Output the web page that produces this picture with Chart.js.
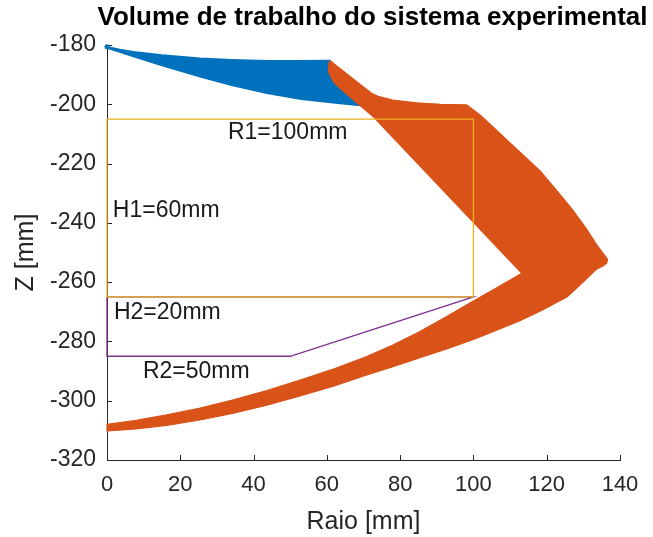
<!DOCTYPE html>
<html>
<head>
<meta charset="utf-8">
<script src="https://cdn.jsdelivr.net/npm/chart.js@4/dist/chart.umd.min.js"></script>
<style>
  html, body { margin: 0; padding: 0; background: #ffffff; }
  canvas { display: block; }
</style>
</head>
<body>
<canvas id="chart" width="653" height="537" style="width:653px;height:537px"></canvas>
<script>
// Axis ticks
const raioTicks = [0, 20, 40, 60, 80, 100, 120, 140];
const zTicks = [-320, -300, -280, -260, -240, -220, -200, -180];

// Reach of the first link (blue) — outline in Raio / Z (mm)
const blueRaio = [0, 3.5, 7.2, 15, 25.4, 34, 43.6, 52, 60.9, 61.5, 66.0, 70.5,
                  63.6, 58, 53, 43.6, 34, 25.4, 15, 7.2, 3.5, 0];
const blueZ    = [-180.6, -181.5, -182.3, -183.4, -184.5, -185.0, -185.3, -185.35, -185.2, -190.0, -197.0, -200.6,
                  -199.7, -199.0, -198.3, -196.3, -193.6, -190.7, -186.9, -183.9, -182.4, -181.0];

// Reach of the full arm (orange) — outline in Raio / Z (mm)
const orangeRaio = [60.9, 66.5, 72.2, 74.0, 78.0, 84.5, 91.0, 98.2,
                    101.8, 105.5, 109.1, 113.6, 118.2, 122.8, 127.3, 130.7, 133.7, 135.5, 136.6, 136.4, 135.6,
                    133.6, 129.5, 125.5, 119.0, 112.7, 106.0, 100.0, 92.7, 85.4, 78.0, 70.9, 62.0, 52.7, 43.6, 34.5, 25.4, 16.3, 8.0, 0.0,
                    0.0, 8.0, 16.3, 25.4, 34.5, 43.6, 52.7, 62.0, 70.9, 78.0, 85.4, 92.7, 100.0, 106.6, 113.2,
                    72.7, 67.2, 63.5, 61.8, 60.6, 60.4, 60.5, 60.9];
const orangeZ    = [-185.3, -190.8, -196.3, -197.3, -198.6, -199.5, -200.0, -200.2,
                    -203.6, -207.8, -212.0, -217.2, -222.5, -229.2, -236.0, -241.8, -247.5, -250.5, -252.3, -253.5, -254.4,
                    -255.6, -260.5, -265.0, -269.3, -273.0, -276.4, -279.3, -282.5, -285.5, -288.5, -291.3, -295.0, -298.4, -301.5, -304.2, -306.5, -308.3, -309.5, -310.2,
                    -308.0, -306.6, -304.8, -302.5, -299.7, -296.6, -293.0, -289.2, -285.1, -281.2, -276.7, -271.6, -266.4, -261.7, -257.0,
                    -204.2, -198.5, -194.5, -192.4, -189.5, -188.4, -186.5, -185.3];

// Cylindrical work volume (R1 x H1)
const box1Raio = [0, 100, 100, 0, 0];
const box1Z    = [-205, -205, -265, -265, -205];

// Lower conical volume (R1 -> R2, H2)
const box2Raio = [0, 100, 50, 0, 0];
const box2Z    = [-265, -265, -285, -285, -265];

// Dimension notes
const noteText = ['R1=100mm', 'H1=60mm', 'H2=20mm', 'R2=50mm'];
const noteRaio = [33, 1.6, 1.9, 9.8];
const noteZ    = [-209.7, -235.9, -270.3, -290.2];

const chartTitle = 'Volume de trabalho do sistema experimental';

const toPoints = (xs, ys) => xs.map((v, i) => ({ x: v, y: ys[i] }));

const FONT = '"Liberation Sans", Arial, Helvetica, sans-serif';
const AXIS_COLOR = '#262626';

const inwardTicks = {
  id: 'inwardTicks',
  beforeDatasetsDraw(chart) {
    const { ctx, chartArea, scales } = chart;
    const len = 5;
    ctx.save();
    ctx.strokeStyle = AXIS_COLOR;
    ctx.lineWidth = 1;
    ctx.beginPath();
    scales.x.ticks.forEach(t => {
      const px = Math.round(scales.x.getPixelForValue(t.value)) + 0.5;
      ctx.moveTo(px, chartArea.bottom);
      ctx.lineTo(px, chartArea.bottom - len);
    });
    scales.y.ticks.forEach(t => {
      const py = Math.round(scales.y.getPixelForValue(t.value)) + 0.5;
      ctx.moveTo(chartArea.left, py);
      ctx.lineTo(chartArea.left + len, py);
    });
    ctx.stroke();
    ctx.restore();
  }
};

const notes = {
  id: 'notes',
  afterDatasetsDraw(chart) {
    const { ctx, scales } = chart;
    ctx.save();
    ctx.font = '23px ' + FONT;
    ctx.fillStyle = '#1a1a1a';
    ctx.textAlign = 'left';
    ctx.textBaseline = 'middle';
    noteText.forEach((t, i) => {
      ctx.fillText(t, scales.x.getPixelForValue(noteRaio[i]), scales.y.getPixelForValue(noteZ[i]));
    });
    ctx.restore();
  }
};

// heading over the axes, at its natural width
const heading = {
  id: 'heading',
  afterDraw(chart) {
    const { ctx, chartArea } = chart;
    ctx.save();
    ctx.font = 'bold 26px ' + FONT;
    ctx.fillStyle = '#000000';
    ctx.textAlign = 'center';
    ctx.textBaseline = 'middle';
    ctx.fillText(chartTitle, (chartArea.left + chartArea.right) / 2 + 9, 18);
    ctx.restore();
  }
};

// round cap on the first vertex of a filled outline
const endDot = r => c => (c.dataIndex === 0 ? r : 0);

new Chart(document.getElementById('chart'), {
  type: 'scatter',
  data: {
    datasets: [
      {
        label: 'H1 / R1',
        data: toPoints(box1Raio, box1Z),
        showLine: true, fill: false, tension: 0,
        borderColor: '#EDB120', borderWidth: 1.3,
        pointRadius: 0, clip: 4
      },
      {
        label: 'H2 / R2',
        data: toPoints(box2Raio, box2Z),
        showLine: true, fill: false, tension: 0,
        borderColor: '#7E2F8E', borderWidth: 1.3,
        pointRadius: 0, clip: 4
      },
      {
        label: 'Braço completo',
        data: toPoints(orangeRaio, orangeZ),
        showLine: true, fill: 'shape', tension: 0,
        borderColor: '#D95319', backgroundColor: '#D95319',
        borderWidth: 1.2, borderJoinStyle: 'round',
        pointRadius: 0, clip: 6
      },
      {
        label: 'Primeiro elo',
        data: toPoints(blueRaio, blueZ),
        showLine: true, fill: 'shape', tension: 0,
        borderColor: '#0072BD', backgroundColor: '#0072BD',
        borderWidth: 1.5, borderJoinStyle: 'round',
        pointRadius: endDot(2.5), pointBackgroundColor: '#0072BD', pointBorderWidth: 0,
        clip: 6
      }
    ]
  },
  options: {
    responsive: false,
    animation: false,
    events: [],
    layout: { padding: { top: 45, left: 0, right: 33, bottom: 0 } },
    plugins: {
      legend: { display: false },
      tooltip: { enabled: false },
      title: { display: false }
    },
    scales: {
      x: {
        type: 'linear',
        min: 0, max: 140,
        afterBuildTicks: s => { s.ticks = raioTicks.map(v => ({ value: v })); },
        afterFit: s => { s.height = 77; },
        grid: { display: false, drawTicks: false },
        border: { display: true, color: AXIS_COLOR, width: 1 },
        ticks: {
          color: AXIS_COLOR, padding: 12, maxRotation: 0,
          font: { family: FONT, size: 22 },
          callback: v => String(v)
        },
        title: {
          display: true, text: 'Raio [mm]', color: AXIS_COLOR,
          font: { family: FONT, size: 25 },
          padding: { top: 0, bottom: 0 }
        }
      },
      y: {
        type: 'linear',
        min: -320, max: -180,
        afterBuildTicks: s => { s.ticks = zTicks.map(v => ({ value: v })); },
        afterFit: s => { s.width = 107; },
        grid: { display: false, drawTicks: false },
        border: { display: true, color: AXIS_COLOR, width: 1 },
        ticks: {
          color: AXIS_COLOR, padding: 11,
          font: { family: FONT, size: 23 },
          callback: v => String(v)
        },
        title: {
          display: true, text: 'Z [mm]', color: AXIS_COLOR,
          font: { family: FONT, size: 25 },
          padding: { top: 11, bottom: 0 }
        }
      }
    }
  },
  plugins: [inwardTicks, notes, heading]
});
</script>
</body>
</html>
